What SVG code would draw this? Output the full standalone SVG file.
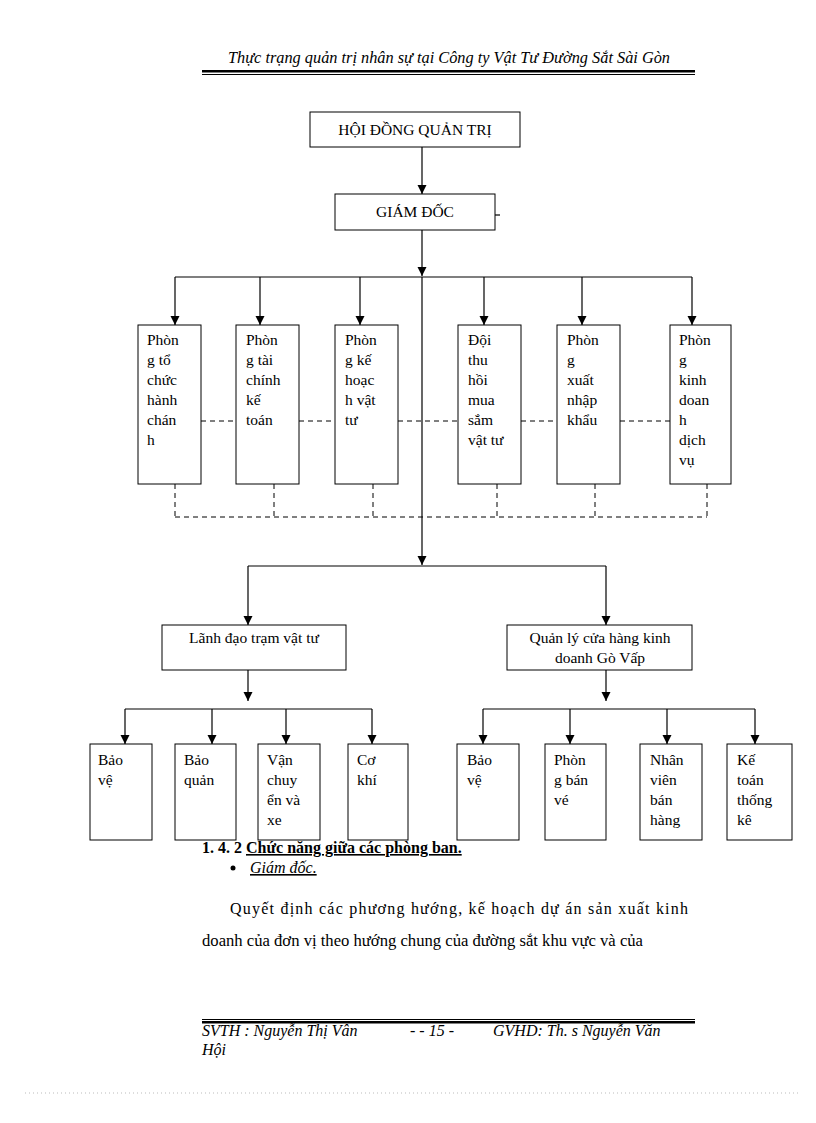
<svg xmlns="http://www.w3.org/2000/svg" width="816" height="1123" viewBox="0 0 816 1123">
<defs>
<marker id="a" markerWidth="10" markerHeight="10" refX="9" refY="5" orient="auto" markerUnits="userSpaceOnUse" viewBox="0 0 10 10"><path d="M0,0.5 L9,5 L0,9.5 z" fill="#000"/></marker>
</defs>
<style>
text{font-family:"Liberation Serif",serif;font-size:15.5px;fill:#000}
.b{fill:#fff;stroke:#000;stroke-width:1}
.l{stroke:#000;stroke-width:1.2;fill:none}
.d{stroke:#000;stroke-width:1;fill:none;stroke-dasharray:5,4}
.i{font-style:italic}
.p{font-size:16px}
</style>
<rect width="816" height="1123" fill="#fff"/>
<text class="i p" x="228" y="63" textLength="442" lengthAdjust="spacingAndGlyphs">Thực trạng quản trị nhân sự tại Công ty Vật Tư Đường Sắt Sài Gòn</text>
<rect x="202" y="70" width="493" height="2.5" fill="#000"/><rect x="202" y="74" width="493" height="1" fill="#000"/>

<g id="connectors">
<path class="l" d="M422,147 V194" marker-end="url(#a)"/>
<path class="l" d="M495,215 H500"/>
<path class="l" d="M422,230 V276" marker-end="url(#a)"/>
<path class="l" d="M175,277 H692"/>
<path class="l" d="M175,277 V325" marker-end="url(#a)"/>
<path class="l" d="M260,277 V325" marker-end="url(#a)"/>
<path class="l" d="M360,277 V325" marker-end="url(#a)"/>
<path class="l" d="M484,277 V325" marker-end="url(#a)"/>
<path class="l" d="M582,277 V325" marker-end="url(#a)"/>
<path class="l" d="M692,277 V325" marker-end="url(#a)"/>
<path class="l" d="M422,277 V565" marker-end="url(#a)"/>
<path class="d" d="M201,421 H236 M299,421 H335 M398,421 H458 M521,421 H557 M620,421 H670"/>
<path class="d" d="M175,484 V517 M274,484 V517 M373,484 V517 M497,484 V517 M595,484 V517 M707,484 V517 M175,517 H707"/>
<path class="l" d="M248,566 H606"/>
<path class="l" d="M248,566 V625" marker-end="url(#a)"/>
<path class="l" d="M606,566 V625" marker-end="url(#a)"/>
<path class="l" d="M248,670 V701" marker-end="url(#a)"/>
<path class="l" d="M606,670 V701" marker-end="url(#a)"/>
<path class="l" d="M125,709 H372 M483,709 H755"/>
<path class="l" d="M125,709 V744" marker-end="url(#a)"/>
<path class="l" d="M212,709 V744" marker-end="url(#a)"/>
<path class="l" d="M286,709 V744" marker-end="url(#a)"/>
<path class="l" d="M372,709 V744" marker-end="url(#a)"/>
<path class="l" d="M483,709 V744" marker-end="url(#a)"/>
<path class="l" d="M570,709 V744" marker-end="url(#a)"/>
<path class="l" d="M667,709 V744" marker-end="url(#a)"/>
<path class="l" d="M755,709 V744" marker-end="url(#a)"/>
</g>

<g id="hdqt"><rect class="b" x="310" y="112" width="210" height="35"/><text x="415" y="135" text-anchor="middle">HỘI ĐỒNG  QUẢN  TRỊ</text></g>
<g id="giamdoc"><rect class="b" x="335" y="194" width="160" height="36"/><text x="415" y="217" text-anchor="middle">GIÁM  ĐỐC</text></g>

<g id="p1"><rect class="b" x="138" y="325" width="63" height="159"/><text x="147" y="345"><tspan x="147">Phòn</tspan><tspan x="147" dy="20">g tổ</tspan><tspan x="147" dy="20">chức</tspan><tspan x="147" dy="20">hành</tspan><tspan x="147" dy="20">chán</tspan><tspan x="147" dy="20">h</tspan></text></g>
<g id="p2"><rect class="b" x="236" y="325" width="63" height="159"/><text x="246" y="345"><tspan x="246">Phòn</tspan><tspan x="246" dy="20">g tài</tspan><tspan x="246" dy="20">chính</tspan><tspan x="246" dy="20">kế</tspan><tspan x="246" dy="20">toán</tspan></text></g>
<g id="p3"><rect class="b" x="335" y="325" width="63" height="159"/><text x="345" y="345"><tspan x="345">Phòn</tspan><tspan x="345" dy="20">g kế</tspan><tspan x="345" dy="20">hoạc</tspan><tspan x="345" dy="20">h vật</tspan><tspan x="345" dy="20">tư</tspan></text></g>
<g id="p4"><rect class="b" x="458" y="325" width="63" height="159"/><text x="468" y="345"><tspan x="468">Đội</tspan><tspan x="468" dy="20">thu</tspan><tspan x="468" dy="20">hồi</tspan><tspan x="468" dy="20">mua</tspan><tspan x="468" dy="20">sắm</tspan><tspan x="468" dy="20">vật  tư</tspan></text></g>
<g id="p5"><rect class="b" x="557" y="325" width="63" height="159"/><text x="567" y="345"><tspan x="567">Phòn</tspan><tspan x="567" dy="20">g</tspan><tspan x="567" dy="20">xuất</tspan><tspan x="567" dy="20">nhập</tspan><tspan x="567" dy="20">khẩu</tspan></text></g>
<g id="p6"><rect class="b" x="670" y="325" width="61" height="159"/><text x="679" y="345"><tspan x="679">Phòn</tspan><tspan x="679" dy="20">g</tspan><tspan x="679" dy="20">kinh</tspan><tspan x="679" dy="20">doan</tspan><tspan x="679" dy="20">h</tspan><tspan x="679" dy="20">dịch</tspan><tspan x="679" dy="20">vụ</tspan></text></g>

<g id="lanhdao"><rect class="b" x="162" y="625" width="184" height="45"/><text x="254" y="643" text-anchor="middle">Lãnh  đạo trạm vật  tư</text></g>
<g id="quanly"><rect class="b" x="507" y="625" width="185" height="45"/><text x="600" y="643" text-anchor="middle"><tspan x="600">Quản  lý cửa hàng  kinh</tspan><tspan x="600" dy="20">doanh  Gò Vấp</tspan></text></g>

<g id="l1"><rect class="b" x="90" y="744" width="62" height="96"/><text x="98" y="765"><tspan x="98">Bảo</tspan><tspan x="98" dy="20">vệ</tspan></text></g>
<g id="l2"><rect class="b" x="175" y="744" width="61" height="96"/><text x="184" y="765"><tspan x="184">Bảo</tspan><tspan x="184" dy="20">quản</tspan></text></g>
<g id="l3"><rect class="b" x="258" y="744" width="62" height="96"/><text x="267" y="765"><tspan x="267">Vận</tspan><tspan x="267" dy="20">chuy</tspan><tspan x="267" dy="20">ển và</tspan><tspan x="267" dy="20">xe</tspan></text></g>
<g id="l4"><rect class="b" x="348" y="744" width="60" height="96"/><text x="357" y="765"><tspan x="357">Cơ</tspan><tspan x="357" dy="20">khí</tspan></text></g>
<g id="r1"><rect class="b" x="457" y="744" width="62" height="96"/><text x="467" y="765"><tspan x="467">Bảo</tspan><tspan x="467" dy="20">vệ</tspan></text></g>
<g id="r2"><rect class="b" x="545" y="744" width="61" height="96"/><text x="554" y="765"><tspan x="554">Phòn</tspan><tspan x="554" dy="20">g bán</tspan><tspan x="554" dy="20">vé</tspan></text></g>
<g id="r3"><rect class="b" x="640" y="744" width="62" height="96"/><text x="650" y="765"><tspan x="650">Nhân</tspan><tspan x="650" dy="20">viên</tspan><tspan x="650" dy="20">bán</tspan><tspan x="650" dy="20">hàng</tspan></text></g>
<g id="r4"><rect class="b" x="727" y="744" width="65" height="96"/><text x="737" y="765"><tspan x="737">Kế</tspan><tspan x="737" dy="20">toán</tspan><tspan x="737" dy="20">thống</tspan><tspan x="737" dy="20">kê</tspan></text></g>

<text x="202" y="853" font-weight="bold" class="p">1. 4. 2 <tspan text-decoration="underline">Chức năng giữa các phòng ban.</tspan></text>
<circle cx="233" cy="868" r="2.5" fill="#000"/>
<text x="250" y="873" class="i p" text-decoration="underline">Giám đốc.</text>
<text x="230" y="914" class="p" textLength="458" lengthAdjust="spacing">Quyết định các phương hướng, kế hoạch dự án sản xuất kinh</text>
<text x="202" y="946" class="p" textLength="441" lengthAdjust="spacingAndGlyphs">doanh của đơn vị theo hướng chung của đường sắt khu vực và của</text>

<rect x="202" y="1019" width="493" height="1" fill="#000"/><rect x="202" y="1021" width="493" height="2.5" fill="#000"/>
<text class="i p" x="202" y="1036">SVTH : Nguyễn Thị Vân</text>
<text class="i p" x="410" y="1036">- - 15 -</text>
<text class="i p" x="493" y="1036">GVHD: Th. s Nguyễn Văn</text>
<text class="i p" x="202" y="1055">Hội</text>
<path d="M25,1093 H800" stroke="#bbb" stroke-width="1" stroke-dasharray="1,3"/>
</svg>
